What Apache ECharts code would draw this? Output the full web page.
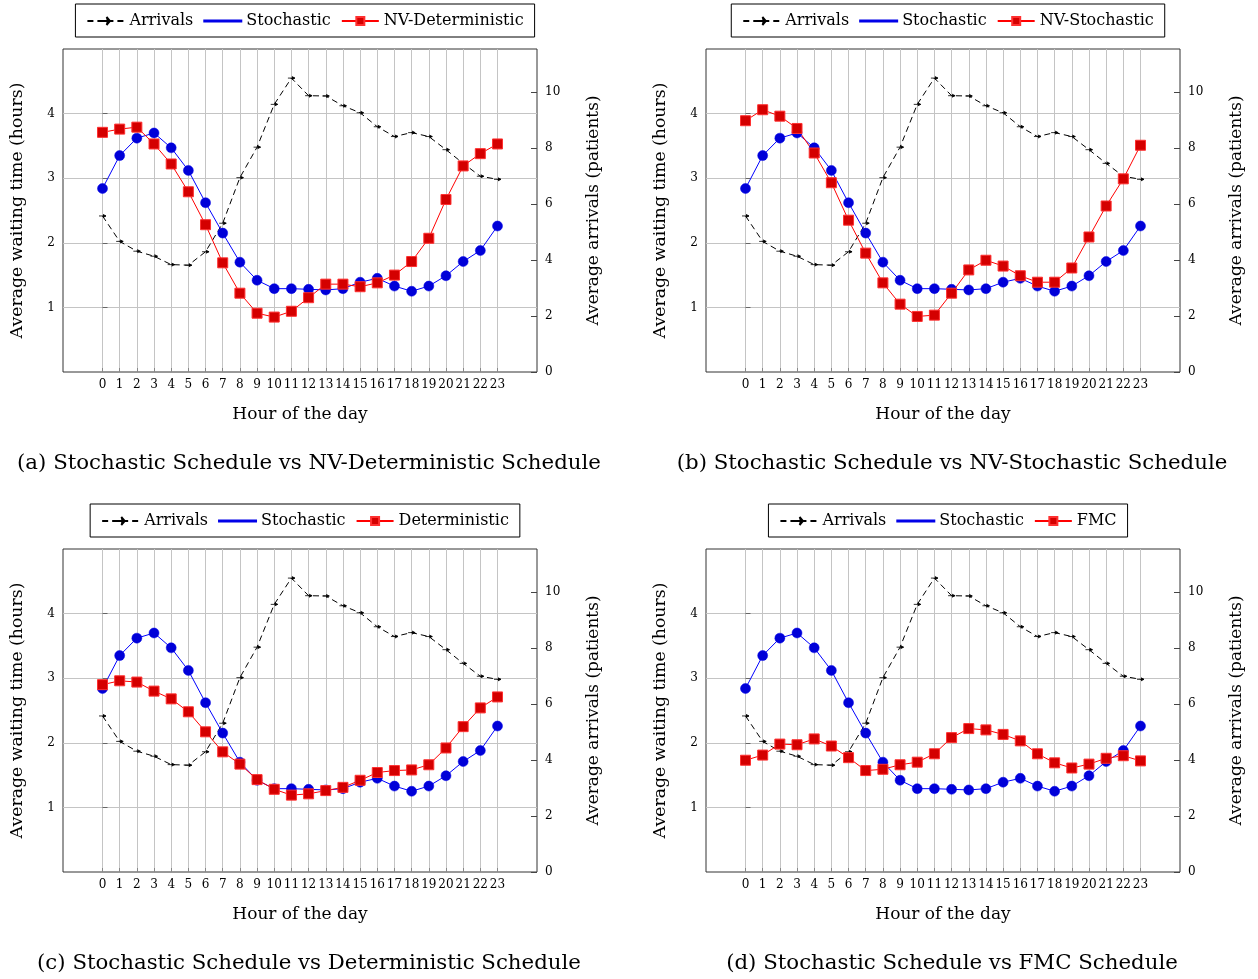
<!DOCTYPE html>
<html><head><meta charset="utf-8">
<script src="https://cdn.jsdelivr.net/npm/echarts@6/dist/echarts.min.js"></script>
<style>
html,body{margin:0;padding:0;background:#fff;width:1258px;height:979px;overflow:hidden;position:relative}
.p{position:absolute;width:610px;height:490px}
</style></head>
<body>
<div id="pa" class="p" style="left:0;top:0"></div>
<div id="pb" class="p" style="left:643px;top:0"></div>
<div id="pc" class="p" style="left:0;top:500px"></div>
<div id="pd" class="p" style="left:643px;top:500px"></div>
<script>
const hours = [0,1,2,3,4,5,6,7,8,9,10,11,12,13,14,15,16,17,18,19,20,21,22,23];
const arrivals = [5.58,4.67,4.32,4.14,3.84,3.82,4.30,5.32,6.95,8.04,9.57,10.51,9.88,9.87,9.52,9.27,8.77,8.42,8.56,8.42,7.95,7.46,7.00,6.89];
const stochastic = [2.84,3.35,3.62,3.70,3.47,3.12,2.62,2.15,1.70,1.42,1.29,1.29,1.28,1.27,1.29,1.39,1.45,1.33,1.25,1.33,1.49,1.71,1.88,2.26];
const nvDeterministic = [3.71,3.76,3.79,3.53,3.22,2.79,2.28,1.69,1.22,0.91,0.85,0.94,1.15,1.36,1.36,1.32,1.38,1.50,1.71,2.07,2.67,3.19,3.38,3.53];
const nvStochastic = [3.89,4.06,3.96,3.77,3.39,2.93,2.35,1.84,1.38,1.05,0.86,0.88,1.22,1.58,1.73,1.64,1.49,1.39,1.39,1.61,2.09,2.57,2.99,3.51];
const deterministic = [2.90,2.96,2.94,2.80,2.68,2.48,2.17,1.86,1.67,1.43,1.28,1.19,1.21,1.26,1.31,1.42,1.54,1.57,1.58,1.66,1.92,2.25,2.54,2.71];
const fmc = [1.73,1.81,1.98,1.97,2.06,1.95,1.77,1.57,1.59,1.66,1.70,1.83,2.08,2.22,2.20,2.13,2.03,1.83,1.69,1.61,1.67,1.76,1.80,1.72];
const leftTicks = [1,2,3,4];
const rightTicks = [0,2,4,6,8,10];
const xLabel = 'Hour of the day';
const leftLabel = 'Average waiting time (hours)';
const rightLabel = 'Average arrivals (patients)';
const panels = [
  {id:'pa', red:'NV-Deterministic', data:nvDeterministic, caption:'(a) Stochastic Schedule vs NV-Deterministic Schedule'},
  {id:'pb', red:'NV-Stochastic', data:nvStochastic, caption:'(b) Stochastic Schedule vs NV-Stochastic Schedule'},
  {id:'pc', red:'Deterministic', data:deterministic, caption:'(c) Stochastic Schedule vs Deterministic Schedule'},
  {id:'pd', red:'FMC', data:fmc, caption:'(d) Stochastic Schedule vs FMC Schedule'}
];

const FONT = 'DejaVu Serif';
const arrowPath = 'path://M0,3 L7,3 M4,0.8 L7,3 L4,5.2';
const linePath = 'path://M0,0 L40,0 L40,0.9 L0,0.9 Z';
const pairs = arr => hours.map((h,i)=>[h, arr[i]]);

function makeOption(p){
  return {
    animation:false,
    textStyle:{fontFamily:FONT},
    title:{text:p.caption, left:309, textAlign:'center', top:453, padding:0,
      textStyle:{fontFamily:FONT, fontSize:21.3, fontWeight:'normal', color:'#000'}},
    legend:{top:4, left:'center', orient:'horizontal',
      borderColor:'#000', borderWidth:1, borderRadius:0, padding:[9,11,8,11],
      itemWidth:37, itemHeight:10, itemGap:10,
      textStyle:{fontFamily:FONT, fontSize:16, color:'#000'},
      data:[{name:'Arrivals'},{name:'Stochastic', icon:linePath},{name:p.red}]},
    grid:{left:63, top:49, width:484, height:323, show:true, borderColor:'#333', borderWidth:1, backgroundColor:'transparent'},
    xAxis:{type:'value', min:-2.3, max:25.3,
      name:xLabel, nameLocation:'middle', nameGap:34,
      nameTextStyle:{fontFamily:FONT, fontSize:17, color:'#000'},
      axisLine:{show:false},
      axisTick:{show:true, inside:true, length:4, customValues:hours, lineStyle:{color:'#888'}},
      axisLabel:{customValues:hours, margin:7, fontFamily:FONT, fontSize:12, color:'#000'},
      splitLine:{show:true, lineStyle:{color:'#c4c4c4', width:1}}},
    yAxis:[
      {type:'value', min:0, max:5, interval:1, position:'left',
        name:leftLabel, nameLocation:'middle', nameGap:37, nameRotate:90,
        nameTextStyle:{fontFamily:FONT, fontSize:17.3, color:'#000'},
        axisLine:{show:false},
        axisTick:{show:true, inside:true, length:5, customValues:leftTicks, lineStyle:{color:'#666'}},
        axisLabel:{customValues:leftTicks, margin:8, fontFamily:FONT, fontSize:12, color:'#000'},
        splitLine:{show:true, lineStyle:{color:'#c4c4c4', width:1}}},
      {type:'value', min:0, max:11.55, position:'right',
        name:rightLabel, nameLocation:'middle', nameGap:48, nameRotate:90,
        nameTextStyle:{fontFamily:FONT, fontSize:17, color:'#000'},
        axisLine:{show:false},
        axisTick:{show:true, inside:true, length:6, customValues:rightTicks, lineStyle:{color:'#444'}},
        axisLabel:{customValues:rightTicks, margin:8, fontFamily:FONT, fontSize:12, color:'#000'},
        splitLine:{show:false}}
    ],
    series:[
      {name:'Arrivals', type:'line', yAxisIndex:1, data:pairs(arrivals),
        symbol:arrowPath, symbolSize:[7,5], symbolKeepAspect:true,
        lineStyle:{color:'#000', width:1, type:[6,4]},
        itemStyle:{color:'#000', borderColor:'#000', borderWidth:0.8}},
      {name:'Stochastic', type:'line', yAxisIndex:0, data:pairs(stochastic),
        symbol:'circle', symbolSize:10,
        lineStyle:{color:'#0000ff', width:1},
        itemStyle:{color:'#0000d8', borderColor:'#0000e8', borderWidth:0.5}},
      {name:p.red, type:'line', yAxisIndex:0, data:pairs(p.data),
        symbol:'rect', symbolSize:10,
        lineStyle:{color:'#ff0000', width:1},
        itemStyle:{color:'#d40000', borderColor:'#ff3030', borderWidth:1}}
    ]
  };
}
panels.forEach(p=>{
  const c = echarts.init(document.getElementById(p.id), null, {renderer:'canvas'});
  c.setOption(makeOption(p));
});
</script>
</body></html>
